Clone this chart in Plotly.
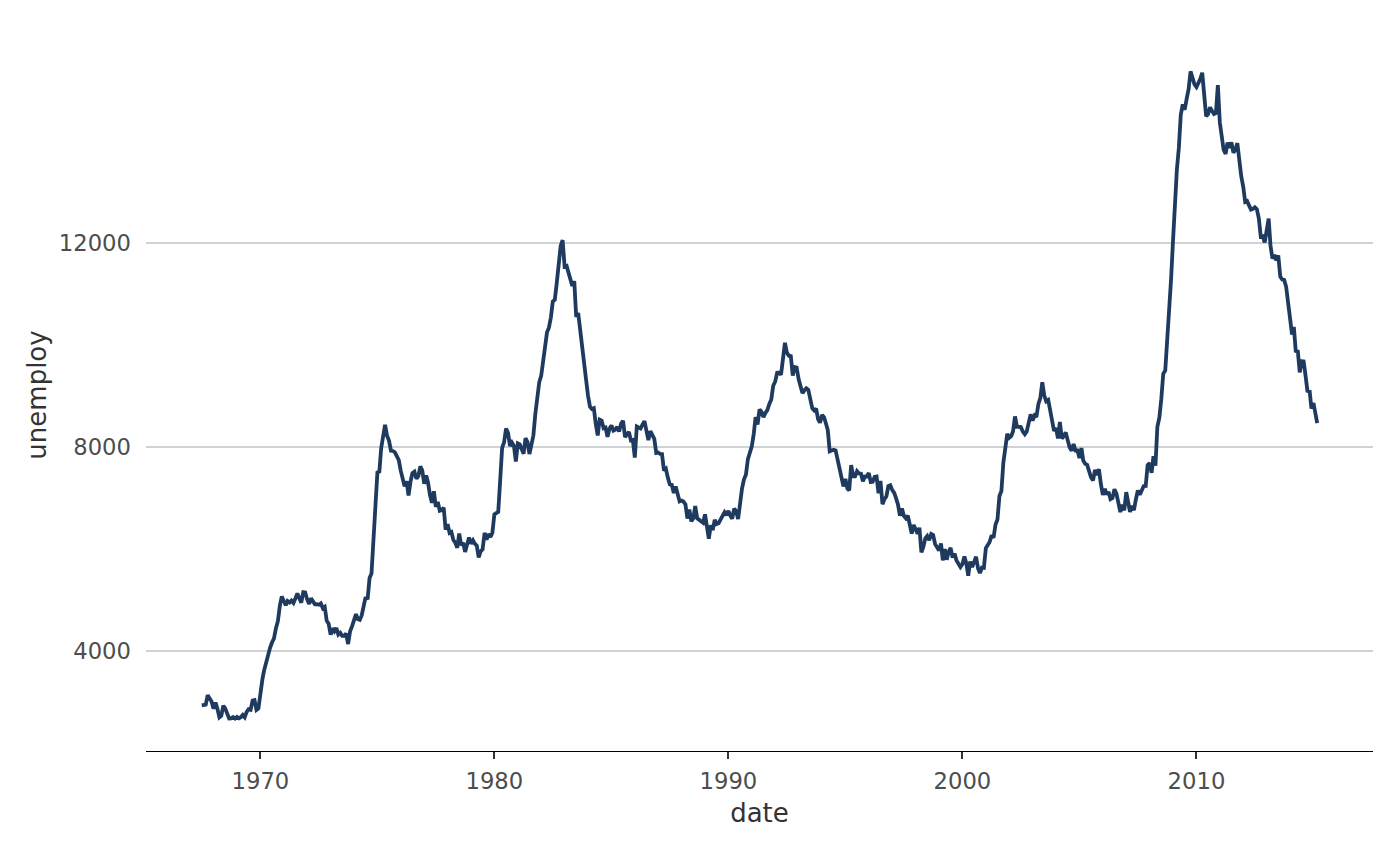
import pandas as pd
import plotly.graph_objects as go

# monthly unemployment (thousands), starting July 1967
start_month = "1967-07-01"
unemploy = [
    2944, 2945, 2958, 3143, 3066, 3018, 2878, 3001, 2877, 2709, 2740, 2938,
    2883, 2768, 2686, 2689, 2715, 2685, 2718, 2692, 2712, 2758, 2713, 2816,
    2868, 2856, 3040, 3049, 2856, 2884, 3201, 3453, 3635, 3797, 3919, 4071,
    4175, 4256, 4456, 4591, 4898, 5076, 4986, 4903, 4987, 4959, 4996, 4949,
    5035, 5134, 5042, 4954, 5161, 5154, 5019, 4928, 5038, 4959, 4922, 4923,
    4913, 4939, 4849, 4875, 4602, 4543, 4326, 4452, 4394, 4459, 4329, 4363,
    4305, 4305, 4350, 4144, 4396, 4489, 4644, 4731, 4634, 4618, 4705, 4927,
    5063, 5022, 5437, 5523, 6140, 6636, 7501, 7520, 7978, 8210, 8433, 8220,
    8127, 7928, 7923, 7897, 7794, 7744, 7534, 7326, 7230, 7330, 7053, 7322,
    7490, 7518, 7380, 7430, 7620, 7545, 7280, 7443, 7307, 7059, 6911, 7134,
    6829, 6925, 6751, 6763, 6815, 6386, 6489, 6318, 6337, 6180, 6127, 6028,
    6309, 6080, 6125, 5947, 6077, 6228, 6109, 6173, 6109, 6069, 5840, 5959,
    5996, 6320, 6190, 6296, 6238, 6325, 6683, 6702, 6729, 7358, 7984, 8098,
    8363, 8281, 8021, 8088, 8023, 7718, 8071, 8051, 7982, 7869, 8174, 8098,
    7863, 8036, 8230, 8646, 9029, 9267, 9397, 9705, 9895, 10244, 10335, 10538,
    10849, 10881, 11217, 11529, 11938, 12051, 11534, 11545, 11408, 11268, 11154, 11246,
    10548, 10623, 10282, 9887, 9499, 9331, 9008, 8791, 8746, 8762, 8456, 8226,
    8537, 8519, 8367, 8381, 8198, 8358, 8423, 8321, 8339, 8395, 8302, 8460,
    8513, 8196, 8248, 8298, 8128, 8138, 7795, 8402, 8383, 8364, 8439, 8508,
    8319, 8135, 8310, 8243, 8159, 7883, 7892, 7865, 7862, 7542, 7574, 7398,
    7268, 7261, 7102, 7227, 7035, 6936, 6953, 6929, 6876, 6601, 6779, 6546,
    6605, 6843, 6604, 6568, 6537, 6518, 6682, 6359, 6205, 6468, 6375, 6577,
    6495, 6511, 6590, 6630, 6725, 6667, 6752, 6651, 6598, 6797, 6742, 6590,
    6922, 7188, 7368, 7459, 7764, 7901, 8015, 8265, 8586, 8439, 8736, 8692,
    8586, 8666, 8722, 8842, 8931, 9198, 9283, 9454, 9460, 9415, 9744, 10040,
    9850, 9787, 9781, 9398, 9565, 9557, 9325, 9183, 9056, 9110, 9149, 9121,
    8930, 8763, 8714, 8750, 8542, 8477, 8630, 8583, 8470, 8331, 7915, 7927,
    7946, 7933, 7734, 7632, 7375, 7230, 7375, 7187, 7153, 7645, 7430, 7427,
    7527, 7484, 7478, 7328, 7426, 7423, 7491, 7313, 7318, 7415, 7423, 7095,
    7337, 6882, 6979, 7031, 7236, 7253, 7158, 7102, 7000, 6873, 6655, 6799,
    6655, 6608, 6656, 6454, 6308, 6476, 6368, 6306, 6422, 5941, 6047, 6212,
    6259, 6179, 6300, 6280, 6100, 6032, 5976, 6111, 5783, 6004, 5796, 5951,
    6025, 5838, 5915, 5778, 5716, 5653, 5708, 5858, 5733, 5481, 5758, 5651,
    5747, 5853, 5625, 5534, 5639, 5634, 6023, 6089, 6141, 6271, 6226, 6484,
    6583, 7042, 7142, 7694, 8003, 8258, 8182, 8215, 8304, 8599, 8399, 8393,
    8390, 8304, 8251, 8307, 8520, 8640, 8520, 8618, 8588, 8842, 8957, 9266,
    9011, 8896, 8921, 8732, 8576, 8317, 8370, 8167, 8491, 8170, 8212, 8286,
    8136, 7990, 7927, 8061, 7932, 7934, 7784, 7980, 7737, 7672, 7651, 7524,
    7406, 7345, 7553, 7453, 7566, 7279, 7064, 7184, 7072, 7120, 6980, 7001,
    7175, 7091, 6847, 6727, 6872, 6762, 7116, 6927, 6731, 6850, 6766, 6979,
    7149, 7067, 7170, 7237, 7240, 7645, 7685, 7497, 7822, 7637, 8395, 8575,
    8937, 9438, 9494, 10074, 10538, 11286, 12058, 12898, 13426, 13853, 14499, 14707,
    14601, 14814, 15009, 15352, 15219, 15098, 15046, 15113, 15202, 15325, 14849, 14474,
    14512, 14648, 14579, 14516, 14537, 15081, 14348, 14013, 13820, 13737, 13957, 13855,
    13962, 13763, 13818, 13948, 13594, 13302, 13093, 12797, 12813, 12713, 12646, 12660,
    12692, 12656, 12471, 12115, 12124, 12005, 12298, 12471, 11950, 11689, 11760, 11654,
    11751, 11335, 11279, 11270, 11136, 10787, 10404, 10202, 10349, 9858, 9889, 9462,
    9682, 9675, 9386, 9077, 9112, 8752, 8862, 8599, 8469,
]
dates = pd.date_range(start_month, periods=len(unemploy), freq="MS")

y_ticks = [4000, 8000, 12000]
y_labels = ["4000", "8000", "12000"]
x_ticks = ["1970-01-01", "1980-01-01", "1990-01-01", "2000-01-01", "2010-01-01"]
x_labels = ["1970", "1980", "1990", "2000", "2010"]

fig = go.Figure()
fig.add_trace(go.Scatter(
    x=dates, y=unemploy, mode="lines",
    line=dict(color="#1f3a5f", width=3.8),
    hoverinfo="x+y",
))

# ggplot-style 5% padding around the data
span_x = dates[-1] - dates[0]
span_y = max(unemploy) - min(unemploy)

# page body has an 8px margin, so the figure is made a bit smaller
fig.update_layout(
    width=1392, height=858,
    paper_bgcolor="white", plot_bgcolor="white",
    margin=dict(l=138, r=27, t=31, b=115),
    font=dict(family="DejaVu Sans", color="#4d4d4d", size=22.7),
    showlegend=False,
    xaxis=dict(
        range=[dates[0] - span_x * 0.05, dates[-1] + span_x * 0.05],
        tickvals=x_ticks, ticktext=x_labels,
        tickfont=dict(size=22.7, color="#4d4d4d"),
        showgrid=False, zeroline=False,
        showline=True, linecolor="black", linewidth=1.3,
        ticks="outside", ticklen=7, tickcolor="#333333", tickwidth=1.5,
        ticklabelstandoff=3,
        title=dict(text="date", font=dict(size=26, color="#333333"), standoff=10),
    ),
    yaxis=dict(
        range=[min(unemploy) - span_y * 0.05, max(unemploy) + span_y * 0.05],
        tickvals=y_ticks, ticktext=y_labels,
        tickfont=dict(size=22.7, color="#4d4d4d"),
        showgrid=True, gridcolor="#d0d3d6", gridwidth=1.6,
        zeroline=False, showline=False, ticks="",
        ticklabelstandoff=14,
        title=dict(text="unemploy", font=dict(size=26, color="#333333"), standoff=4),
    ),
)

fig.write_html("out.html")
